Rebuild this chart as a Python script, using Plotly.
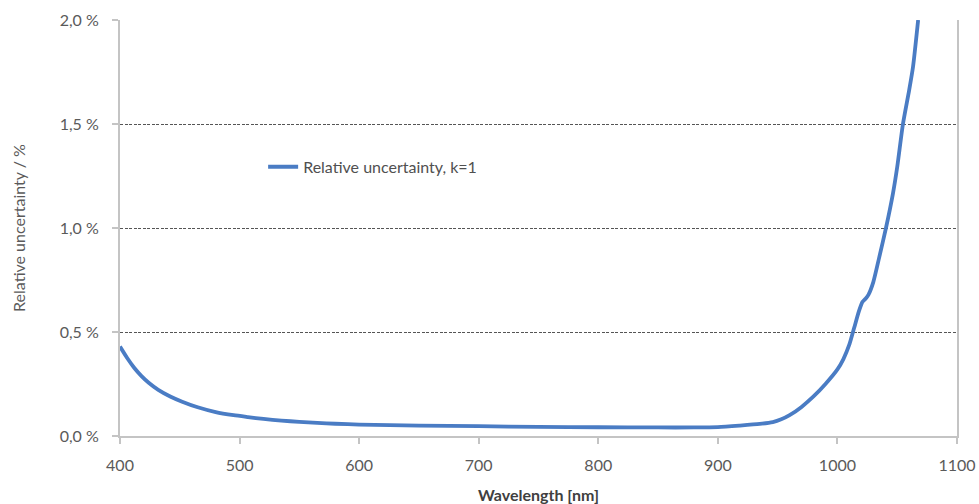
import plotly.graph_objects as go

# Relative uncertainty (k=1) of the spectral measurement, in percent
wavelength_nm = [
    400, 406, 412, 418, 424, 432, 442, 452, 465, 480, 495, 507, 520, 535,
    550, 565, 580, 600, 650, 700, 750, 800, 850, 880, 900, 918, 935, 946,
    953, 960, 970, 980, 990, 1000, 1005, 1010, 1014, 1018, 1021, 1023.5,
    1026, 1030, 1035, 1040.6, 1046.5, 1050, 1054.8, 1060, 1063.2, 1067.5,
]
rel_uncertainty_pct = [
    0.430, 0.375, 0.327, 0.288, 0.256, 0.222, 0.190, 0.165, 0.138, 0.115,
    0.100, 0.091, 0.082, 0.074, 0.068, 0.063, 0.059, 0.055, 0.050, 0.047,
    0.044, 0.042, 0.041, 0.041, 0.043, 0.050, 0.058, 0.067, 0.080, 0.100,
    0.140, 0.190, 0.250, 0.320, 0.370, 0.440, 0.520, 0.600, 0.645, 0.660,
    0.680, 0.740, 0.860, 1.000, 1.168, 1.293, 1.500, 1.663, 1.774, 2.000,
]

x_ticks = [400, 500, 600, 700, 800, 900, 1000, 1100]
y_ticks = [0.0, 0.5, 1.0, 1.5, 2.0]
y_tick_text = ["0,0 %", "0,5 %", "1,0 %", "1,5 %", "2,0 %"]

series_name = "Relative uncertainty, k=1"
x_title = "Wavelength [nm]"
y_title = "Relative uncertainty / %"

FONT = "Lato, Open Sans, sans-serif"
LINE_BLUE = "#4a7cc4"
AXIS_GREY = "#c4c4c4"
TEXT_GREY = "#5a5a5a"

fig = go.Figure()
fig.add_trace(go.Scatter(
    x=wavelength_nm,
    y=rel_uncertainty_pct,
    mode="lines",
    name=series_name,
    line=dict(color=LINE_BLUE, width=3.8, shape="spline", smoothing=0.6),
    showlegend=True,
))

fig.update_layout(
    width=979,
    height=504,
    margin=dict(l=120, r=22, t=20, b=68, autoexpand=False),
    paper_bgcolor="white",
    plot_bgcolor="white",
    font=dict(family=FONT, size=16, color=TEXT_GREY),
    showlegend=True,
    legend=dict(
        x=0.171, y=0.647, xanchor="left", yanchor="middle",
        bgcolor="rgba(0,0,0,0)", borderwidth=0,
        font=dict(family=FONT, size=16, color="#505050"),
    ),
    xaxis=dict(
        range=[400, 1100],
        automargin=False,
        tickmode="array",
        tickvals=x_ticks,
        ticktext=[str(v) for v in x_ticks],
        ticks="outside",
        ticklen=6,
        tickwidth=1.5,
        tickcolor=AXIS_GREY,
        ticklabelstandoff=8,
        showline=True,
        linecolor=AXIS_GREY,
        linewidth=2,
        showgrid=False,
        zeroline=False,
        tickfont=dict(family=FONT, size=16, color=TEXT_GREY),
        title=dict(
            text="<b>" + x_title + "</b>",
            font=dict(family=FONT, size=16, color="#404040"),
            standoff=18,
        ),
    ),
    yaxis=dict(
        range=[0, 2],
        automargin=False,
        tickmode="array",
        tickvals=y_ticks,
        ticktext=y_tick_text,
        ticks="outside",
        ticklen=6,
        tickwidth=1.5,
        tickcolor=AXIS_GREY,
        ticklabelstandoff=10,
        showline=True,
        mirror=True,
        linecolor=AXIS_GREY,
        linewidth=2,
        showgrid=True,
        gridcolor="#555555",
        gridwidth=1,
        griddash="3px,1.5px",
        zeroline=False,
        tickfont=dict(family=FONT, size=16, color=TEXT_GREY),
        title=dict(
            text=y_title,
            font=dict(family=FONT, size=16, color=TEXT_GREY),
            standoff=30,
        ),
    ),
)

fig.write_html("out.html")
